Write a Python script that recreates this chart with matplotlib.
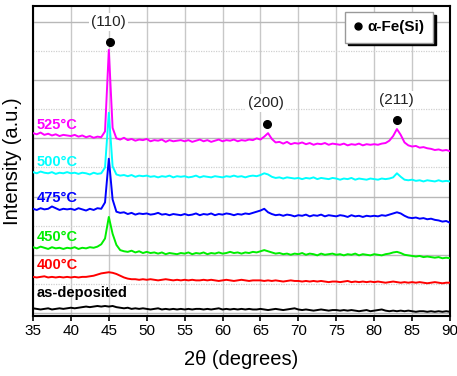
import numpy as np
import matplotlib
matplotlib.use("Agg")
import matplotlib.pyplot as plt
from matplotlib.ticker import MultipleLocator

plt.rcParams['font.family'] = ['Liberation Sans', 'DejaVu Sans']

two_theta = np.arange(35.0, 90.01, 0.5)

as_deposited = [8, 7, 6, 7, 8, 6, 7, 8, 7, 8,
                9, 8, 9, 10, 11, 10, 11, 12, 11, 12,
                11, 12, 10, 9, 8, 9, 7, 8, 7, 8,
                7, 6, 7, 8, 6, 7, 6, 7, 6, 7,
                6, 7, 6, 7, 7, 6, 7, 6, 7, 8,
                6, 7, 6, 7, 6, 7, 6, 7, 6, 6,
                7, 6, 5, 6, 7, 6, 5, 6, 7, 8,
                6, 5, 6, 5, 4, 5, 6, 5, 4, 5,
                5, 4, 5, 4, 5, 4, 3, 4, 5, 3,
                4, 5, 6, 4, 3, 4, 3, 4, 3, 4,
                3, 2, 3, 3, 2, 3, 2, 3, 2, 3,
                2]
t400 = [62, 61, 62, 63, 61, 62, 61, 62, 61, 62,
        61, 62, 61, 62, 62, 63, 64, 66, 68, 69,
        70, 69, 67, 64, 61, 59, 58, 58, 57, 58,
        57, 58, 57, 56, 57, 58, 57, 56, 57, 56,
        57, 56, 57, 56, 56, 57, 56, 57, 56, 55,
        56, 57, 56, 55, 56, 57, 56, 55, 56, 56,
        56, 55, 56, 55, 56, 55, 54, 55, 56, 55,
        55, 54, 55, 54, 55, 54, 55, 54, 53, 54,
        54, 53, 54, 55, 53, 54, 53, 54, 53, 54,
        53, 54, 53, 52, 53, 54, 53, 52, 53, 52,
        53, 52, 53, 52, 51, 52, 53, 52, 51, 52,
        52]
t450 = [113, 111, 114, 112, 110, 113, 111, 112, 110, 112,
        111, 113, 110, 112, 111, 113, 112, 114, 118, 128,
        165, 136, 117, 108, 106, 105, 107, 104, 106, 103,
        105, 103, 104, 102, 104, 101, 103, 102, 101, 103,
        102, 104, 101, 103, 102, 104, 101, 103, 102, 104,
        102, 103, 105, 103, 104, 102, 104, 103, 105, 104,
        106, 108, 106, 104, 102, 103, 101, 102, 100, 102,
        101, 103, 100, 102, 101, 99, 102, 100, 101, 102,
        100, 101, 99, 101, 100, 102, 99, 101, 100, 99,
        101, 100, 99, 101, 102, 104, 105, 103, 100, 99,
        98, 97, 98, 96, 97, 96, 95, 96, 94, 95,
        94]
t475 = [179, 177, 180, 178, 179, 183, 180, 177, 179, 178,
        179, 177, 180, 178, 176, 179, 177, 180, 179, 190,
        265, 195, 174, 172, 173, 170, 172, 169, 171, 170,
        171, 169, 170, 172, 169, 170, 168, 170, 169, 168,
        170, 168, 169, 171, 168, 170, 169, 171, 168, 170,
        169, 171, 170, 168, 170, 169, 171, 170, 172, 174,
        176, 179, 173, 170, 168, 169, 167, 169, 168, 166,
        168, 167, 169, 166, 168, 167, 169, 166, 168, 167,
        166, 168, 167, 165, 168, 166, 167, 165, 167, 166,
        167, 166, 168, 167, 169, 171, 173, 171, 167, 164,
        163, 164, 162, 163, 161, 162, 160, 159, 157, 158,
        155]
t500 = [242, 240, 243, 241, 240, 242, 239, 241, 240, 242,
        240, 241, 239, 241, 240, 238, 241, 239, 240, 250,
        344, 252, 238, 236, 237, 235, 237, 234, 236, 235,
        236, 234, 235, 233, 235, 234, 236, 233, 235, 234,
        235, 233, 234, 236, 233, 235, 234, 233, 235, 234,
        233, 235, 234, 236, 234, 235, 233, 235, 236, 235,
        237, 240, 238, 234, 232, 233, 231, 233, 232, 231,
        232, 230, 232, 231, 233, 230, 232, 231, 230, 232,
        231, 229, 231, 230, 232, 229, 231, 230, 229, 231,
        230, 229, 231, 230, 231, 233, 240, 234, 229, 228,
        229, 227, 228, 226, 228, 227, 226, 228, 226, 227,
        226]
t525 = [309, 307, 310, 306, 308, 305, 307, 304, 306, 305,
        304, 306, 303, 305, 302, 304, 301, 303, 302, 312,
        452, 318, 300, 298, 301, 297, 299, 296, 298, 297,
        299, 295, 297, 296, 298, 294, 297, 295, 296, 297,
        295, 297, 294, 296, 298, 295, 297, 294, 296, 298,
        295, 297, 296, 298, 295, 297, 296, 298, 297, 300,
        298, 303, 309, 299, 293, 294, 291, 294, 290, 292,
        291, 293, 290, 292, 289, 291, 290, 292, 289, 291,
        290, 289, 291, 288, 290, 289, 291, 288, 290, 289,
        290, 289, 291, 292, 296, 304, 316, 306, 293, 288,
        286, 287, 284, 285, 283, 282, 280, 281, 279, 280,
        278]

series = [as_deposited, t400, t450, t475, t500, t525]
labels = ['as-deposited', '400°C', '450°C', '475°C', '500°C', '525°C']
colors = ['#000000', '#ff0000', '#00ee00', '#0000ff', '#00ffff', '#ff00ff']
label_y = [34, 82, 131, 198, 259, 323]

peak_names = ['(110)', '(200)', '(211)']
peak_pos = [45.1, 65.8, 83.0]
peak_dot_y = [466, 325, 332]
peak_text_y = [500, 361, 366]
peak_text_x = [45.0, 65.7, 82.9]

fig = plt.figure(figsize=(4.57, 3.76), dpi=100)
ax = fig.add_axes([0.0722, 0.1596, 0.9125, 0.8245])

for s, c in zip(series, colors):
    ax.plot(two_theta, s, color=c, lw=1.4, zorder=3)

for lab, c, y in zip(labels, colors, label_y):
    ax.text(35.45, y, lab, color=c, fontsize=10.5, fontweight='bold',
            ha='left', va='center', zorder=4)

ax.plot(peak_pos, peak_dot_y, 'o', color='black', ms=5.5, zorder=5)
for name, x, y in zip(peak_names, peak_text_x, peak_text_y):
    ax.text(x, y, name, fontsize=11, ha='center', va='center', color='#222222',
            bbox=dict(facecolor='white', edgecolor='none', pad=1.5), zorder=4)

ax.set_xlim(35, 90)
ax.set_ylim(-5.2, 527.5)
ax.xaxis.set_major_locator(MultipleLocator(5))
ax.yaxis.set_major_locator(MultipleLocator(100))
ax.yaxis.set_minor_locator(MultipleLocator(50))
ax.grid(True, which='major', axis='x', color='#c8c8c8', lw=1.0)
ax.grid(True, which='major', axis='y', color='#b8b8b8', lw=1.0)
ax.grid(True, which='minor', axis='y', color='#d0d0d0', lw=0.9, ls=(0, (1, 1)))
ax.set_axisbelow(True)
ax.tick_params(axis='y', which='both', length=0, labelleft=False)
ax.tick_params(axis='x', which='major', direction='out', length=3.5, width=1.2,
               labelsize=11, pad=2)
for sp in ax.spines.values():
    sp.set_linewidth(1.5)

ax.set_xlabel('2θ (degrees)', fontsize=14.5, labelpad=9)
ax.set_ylabel('Intensity (a.u.)', fontsize=14.5)
ax.yaxis.set_label_coords(-0.027, 0.5)

h, = ax.plot([], [], 'o', color='black', ms=5)
leg = ax.legend([h], ['α-Fe(Si)'], loc='upper right',
                bbox_to_anchor=(0.959, 0.981), borderaxespad=0,
                fancybox=False, framealpha=1, edgecolor='#999999',
                handlelength=0.6, handletextpad=0.3, borderpad=0.55,
                prop={'weight': 'bold', 'size': 11},
                shadow={'color': 'black', 'alpha': 1})
leg.get_frame().set_linewidth(1.0)

fig.savefig('out.png', dpi=100)
